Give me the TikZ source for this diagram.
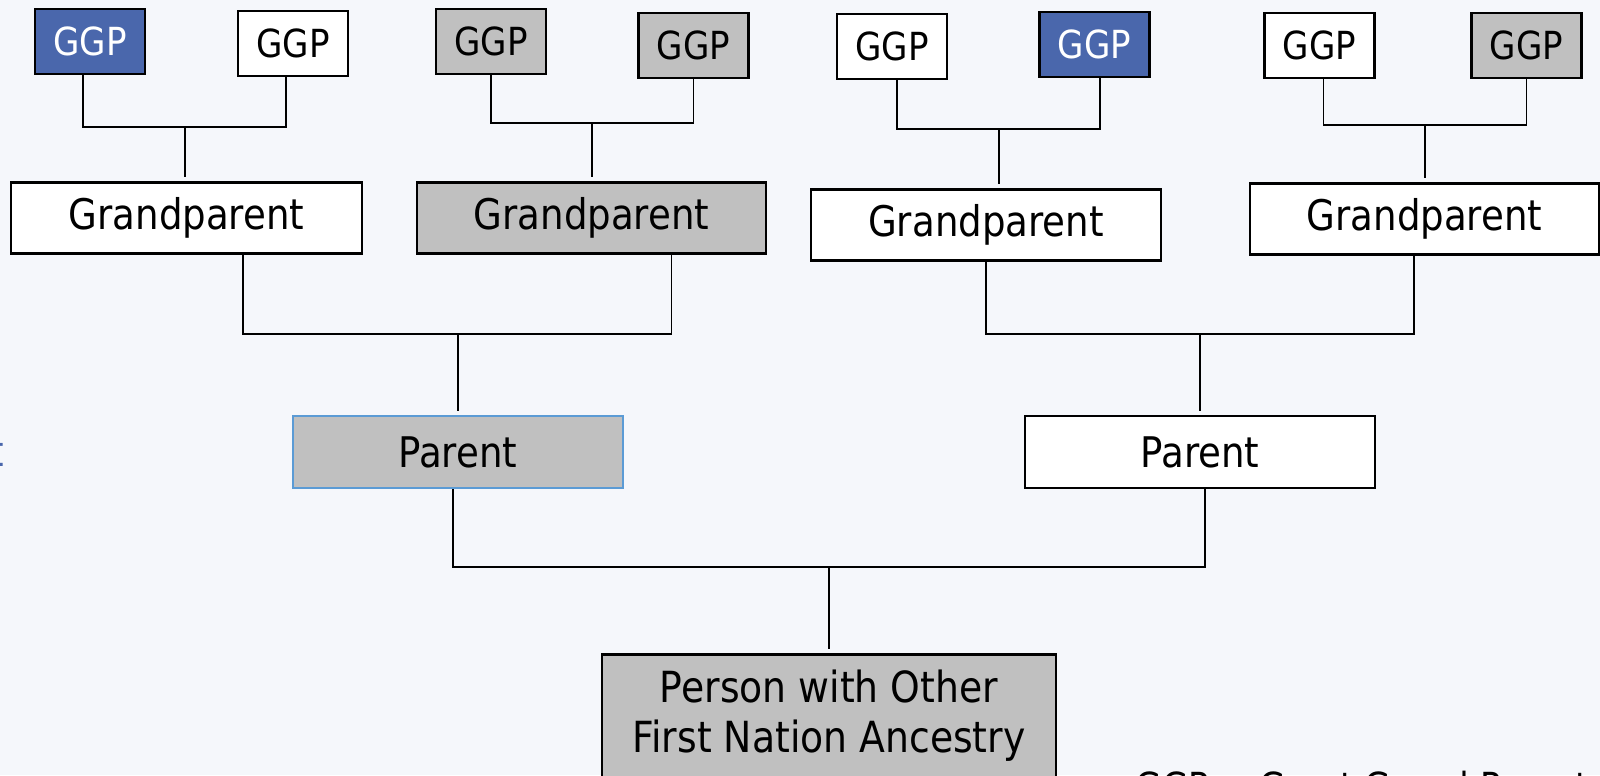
\documentclass[tikz,border=0pt]{standalone}
\usepackage{fontspec}
\setmainfont{DejaVu Sans}[FakeStretch=0.88]
\usepackage{xcolor}
\usetikzlibrary{positioning, calc}
\definecolor{bgpaper}{RGB}{245,247,251}
\definecolor{ggpblue}{RGB}{74,103,172}
\definecolor{boxgrey}{RGB}{192,192,192}
\definecolor{edgeblue}{RGB}{91,155,213}

\begin{document}
\begin{tikzpicture}[
    x=0.01cm, y=-0.01cm,
    box/.style={rectangle, draw, line width=0.6pt, fill=white, text centered, inner sep=2pt, font=\fontsize{12}{14.4}\selectfont},
    ggp/.style={box, minimum width=1.1cm, minimum height=0.65cm, font=\fontsize{11}{13}\selectfont},
    gpbox/.style={box, minimum width=3.5cm, minimum height=0.71cm},
    parbox/.style={box, minimum height=0.72cm},
    link/.style={line width=0.45pt},
    stem/.style={link, shorten >=1.2pt}
]

% Page
\fill[bgpaper] (0,0) rectangle (1600,775);
\useasboundingbox (0,0) rectangle (1600,775);
\clip (0,0) rectangle (1600,775);

% Great grandparents
\node[ggp, fill=ggpblue, text=white] (g1) at (90,41.5) {GGP};
\node[ggp] (g2) at (293,43.5) {GGP};
\node[ggp, fill=boxgrey] (g3) at (491,41.5) {GGP};
\node[ggp, fill=boxgrey] (g4) at (693.5,45.5) {GGP};
\node[ggp] (g5) at (892,46.5) {GGP};
\node[ggp, fill=ggpblue, text=white] (g6) at (1094.5,44.5) {GGP};
\node[ggp] (g7) at (1319.5,45.5) {GGP};
\node[ggp, fill=boxgrey] (g8) at (1526.5,45.5) {GGP};

% Grandparents
\node[gpbox] (gp1) at (186.5,218) {Grandparent};
\node[gpbox, fill=boxgrey, minimum width=3.49cm] (gp2) at (591.5,218) {Grandparent};
\node[gpbox] (gp3) at (986,225) {Grandparent};
\node[gpbox, minimum width=3.49cm] (gp4) at (1424.5,219) {Grandparent};

% Parents
\node[parbox, fill=boxgrey, draw=edgeblue, minimum width=3.295cm] (p1) at (457.75,452.25) {Parent};
\node[parbox, minimum width=3.49cm] (p2) at (1200,452) {Parent};

% Person
\node[box, fill=boxgrey, minimum width=4.54cm, minimum height=1.23cm, align=center, font=\fontsize{12.2}{14.2}\selectfont] (me) at (829,716) {Person with Other\\First Nation Ancestry};

% Junctions
\coordinate (j1) at (185,127);
\coordinate (j2) at (592,123);
\coordinate (j3) at (999,129);
\coordinate (j4) at (1425,125);
\coordinate (k1) at (458,334);
\coordinate (k2) at (1200,334);
\coordinate (m) at (829,567);

% GGP pairs to grandparents
\draw[link] ([xshift=-0.07cm]g1.south) |- (j1) -| ([xshift=-0.07cm]g2.south);
\draw[stem] (j1) -- (j1 |- gp1.north);
\draw[link] (g3.south) |- (j2) -| (g4.south);
\draw[stem] (j2) -- (j2 |- gp2.north);
\draw[link] ([xshift=0.05cm]g5.south) |- (j3) -| ([xshift=0.055cm]g6.south);
\draw[stem] (j3) -- (j3 |- gp3.north);
\draw[link] ([xshift=0.04cm]g7.south) |- (j4) -| (g8.south);
\draw[stem] (j4) -- (j4 |- gp4.north);

% Grandparents to parents
\draw[link] ([xshift=0.565cm]gp1.south) |- (k1) -| ([xshift=0.8cm]gp2.south);
\draw[stem] (k1) -- (k1 |- p1.north);
\draw[link] (gp3.south) |- (k2) -| ([xshift=-0.105cm]gp4.south);
\draw[stem] (k2) -- (k2 |- p2.north);

% Parents to person
\draw[link] ([xshift=-0.05cm]p1.south) |- (m) -| ([xshift=0.05cm]p2.south);
\draw[stem] (m) -- (m |- me.north);

% Cut-off texts
\node[anchor=base east, inner sep=0pt, text=ggpblue, font=\fontsize{12}{14}\selectfont] (cut) at (5,466) {t};
\node[anchor=base west, inner sep=0pt, font=\fontsize{11}{13}\selectfont] (legend) at (1135,800) {GGP = Great Grand Parent};

\end{tikzpicture}
\end{document}
